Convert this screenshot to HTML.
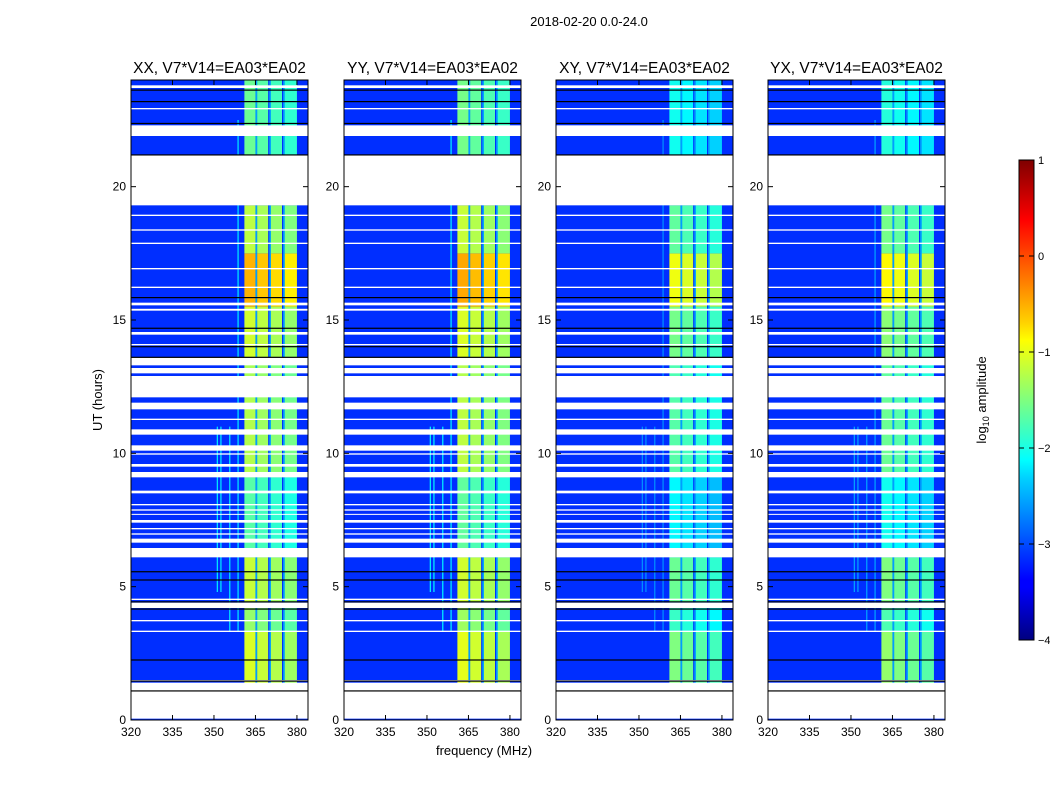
<!DOCTYPE html>
<html><head><meta charset="utf-8"><style>
body{margin:0;background:#fff;}
svg{display:block;font-family:"Liberation Sans",sans-serif;}
</style></head><body>
<svg id="fig" width="1050" height="800">
<defs>
<linearGradient id="jet" x1="0" y1="1" x2="0" y2="0">
<stop offset="0" stop-color="#00007f"/><stop offset="0.11" stop-color="#0000ff"/>
<stop offset="0.125" stop-color="#0000ff"/><stop offset="0.34" stop-color="#00d4ff"/>
<stop offset="0.375" stop-color="#00ffff"/><stop offset="0.5" stop-color="#7fff7f"/>
<stop offset="0.625" stop-color="#ffff00"/><stop offset="0.66" stop-color="#ffd400"/>
<stop offset="0.875" stop-color="#ff0000"/><stop offset="1" stop-color="#7f0000"/>
</linearGradient>
</defs>
<text x="589" y="26" font-size="13" text-anchor="middle">2018-02-20 0.0-24.0</text>
<text x="484" y="755" font-size="13" text-anchor="middle">frequency (MHz)</text>
<text transform="translate(102,400) rotate(-90)" font-size="13" text-anchor="middle">UT (hours)</text>
<g id="panels"></g>
<g>
<rect x="1019" y="160" width="15" height="480" fill="url(#jet)" stroke="#000" stroke-width="1"/>
<g id="cbticks"></g>
<text transform="translate(986,400) rotate(-90)" font-size="13" text-anchor="middle">log<tspan font-size="9" dy="3">10</tspan><tspan dy="-3"> amplitude</tspan></text>
</g>
</svg>
<script>
const panelTitles=["XX, V7*V14=EA03*EA02","YY, V7*V14=EA03*EA02","XY, V7*V14=EA03*EA02","YX, V7*V14=EA03*EA02"];
const panelOffsets=[0,0.05,-0.45,-0.35];
const yTicks=[0,5,10,15,20];
const xTicks=[320,335,350,365,380];
const cbTicks=[1,0,-1,-2,-3,-4];
const bgLevel=-3.15;
// band segments [startHour,endHour,level]
const bandSegments=[[1.1,3.3,-1.15],[3.3,4.2,-1.5],[4.4,6.1,-1.25],[6.1,9.1,-1.8],[9.1,12.0,-1.35],[12.0,13.5,-1.4],[13.5,15.5,-1.2],[15.5,17.5,-0.6],[17.5,19.3,-1.3],[21.2,24,-1.7]];
// sub-columns [startMHz,endMHz,relative level]
const bandColumns=[[361,365,0.1],[365.6,369.6,0.0],[370.4,374.6,-0.1],[375.4,380,-0.2]];
const stripeFreqs=[365,370,375];
const rfiLines=[[351,4.8,11],[352.3,4.8,11],[355.5,3.3,11],[358.5,3.3,22.5]];
const gaps=[[23.7,23.8],[22.9,22.95],[21.9,22.3],[19.3,21.2],[18.9,18.95],[18.35,18.4],[17.85,17.9],[16.9,16.95],[16.2,16.25],[15.55,15.65],[15.35,15.42],[14.45,14.55],[14.05,14.1],[13.3,13.6],[13.0,13.2],[12.1,12.9],[11.65,11.9],[11.25,11.3],[10.7,10.9],[10.1,10.3],[9.95,10.0],[9.5,9.6],[9.1,9.3],[8.5,8.6],[8.05,8.1],[7.85,7.9],[7.7,7.73],[7.4,7.5],[7.15,7.2],[6.95,7.0],[6.65,6.8],[6.1,6.45],[4.5,4.55],[4.2,4.4],[3.7,3.75],[3.3,3.35],[1.45,1.5],[1.1,1.4],[0.05,1.08]];
const blackLines=[23.62,23.19,22.37,21.19,15.84,14.69,14.0,13.6,5.56,5.25,4.43,4.16,2.25,1.46,1.09];

const NS="http://www.w3.org/2000/svg";
const panelX=[131,344,556,768], PW=177, PT=80, PH=640;
const fmin=320,fmax=384,hmin=0,hmax=24,vmin=-4,vmax=1;
function jet(v){let t=(v-vmin)/(vmax-vmin);t=Math.max(0,Math.min(1,t));
 const c=x=>Math.round(255*Math.max(0,Math.min(1,x)));
 return `rgb(${c(1.5-Math.abs(4*t-3))},${c(1.5-Math.abs(4*t-2))},${c(1.5-Math.abs(4*t-1))})`;}
function mk(tag,attrs,parent){const e=document.createElementNS(NS,tag);for(const k in attrs)e.setAttribute(k,attrs[k]);parent.appendChild(e);return e;}
const root=document.getElementById('panels');
panelX.forEach((px,i)=>{
 const x=f=>px+(f-fmin)/(fmax-fmin)*PW;
 const y=h=>PT+PH-(h-hmin)/(hmax-hmin)*PH;
 const g=mk('g',{},root);
 
 
 const off=panelOffsets[i];
 const bg=mk('rect',{x:px,y:PT,width:PW,height:PH,fill:jet(bgLevel)},g);
 
 
 rfiLines.forEach(r=>{const e=mk('rect',{x:x(r[0]),y:y(r[2]),width:1.2,height:y(r[1])-y(r[2]),fill:jet(-2.2+off)},g);
  
  });
 bandSegments.forEach(s=>{
  bandColumns.forEach(c=>{const e=mk('rect',{x:x(c[0]),y:y(s[1]),width:x(c[1])-x(c[0]),height:y(s[0])-y(s[1]),fill:jet(s[2]+c[2]+off)},g);
   
   });
  stripeFreqs.forEach(f=>{const e=mk('rect',{x:x(f),y:y(s[1]),width:x(f+0.6)-x(f),height:y(s[0])-y(s[1]),fill:jet(-2.6)},g);
   
   });
 });
 gaps.forEach(gp=>{const e=mk('rect',{x:px,y:y(gp[1]),width:PW,height:Math.max(1,y(gp[0])-y(gp[1])),fill:'#fff'},g);
  
  });
 blackLines.forEach(h=>{const e=mk('rect',{x:px,y:y(h)-0.6,width:PW,height:1.2,fill:'#000'},g);
  
  });
 const fr=mk('rect',{x:px,y:PT,width:PW,height:PH,fill:'none',stroke:'#000','stroke-width':1},g);
 
 
 yTicks.forEach(t=>{mk('line',{x1:px,x2:px+5,y1:y(t),y2:y(t),stroke:'#000'},g);
  mk('line',{x1:px+PW-5,x2:px+PW,y1:y(t),y2:y(t),stroke:'#000'},g);
  const tx=mk('text',{x:px-5,y:y(t)+4,'font-size':12,'text-anchor':'end'},g);tx.textContent=t;
  
  });
 xTicks.forEach(t=>{mk('line',{x1:x(t),x2:x(t),y1:PT+PH,y2:PT+PH-5,stroke:'#000'},g);
  mk('line',{x1:x(t),x2:x(t),y1:PT,y2:PT+5,stroke:'#000'},g);
  const tx=mk('text',{x:x(t),y:PT+PH+16,'font-size':12,'text-anchor':'middle'},g);tx.textContent=t;
  
  });
 const tt=mk('text',{x:px+PW/2,y:PT-7,'font-size':15.5,'text-anchor':'middle'},g);tt.textContent=panelTitles[i];
 
 
});
const cb=document.getElementById('cbticks');
cbTicks.forEach(v=>{const yy=160+(vmax-v)/(vmax-vmin)*480;
 mk('line',{x1:1029,x2:1034,y1:yy,y2:yy,stroke:'#000'},cb);
 mk('line',{x1:1019,x2:1024,y1:yy,y2:yy,stroke:'#000'},cb);
 const tx=mk('text',{x:1038,y:yy+4,'font-size':11},cb);tx.textContent=(v<0?'\u2212'+(-v):v);
 
 });
</script>
</body></html>
